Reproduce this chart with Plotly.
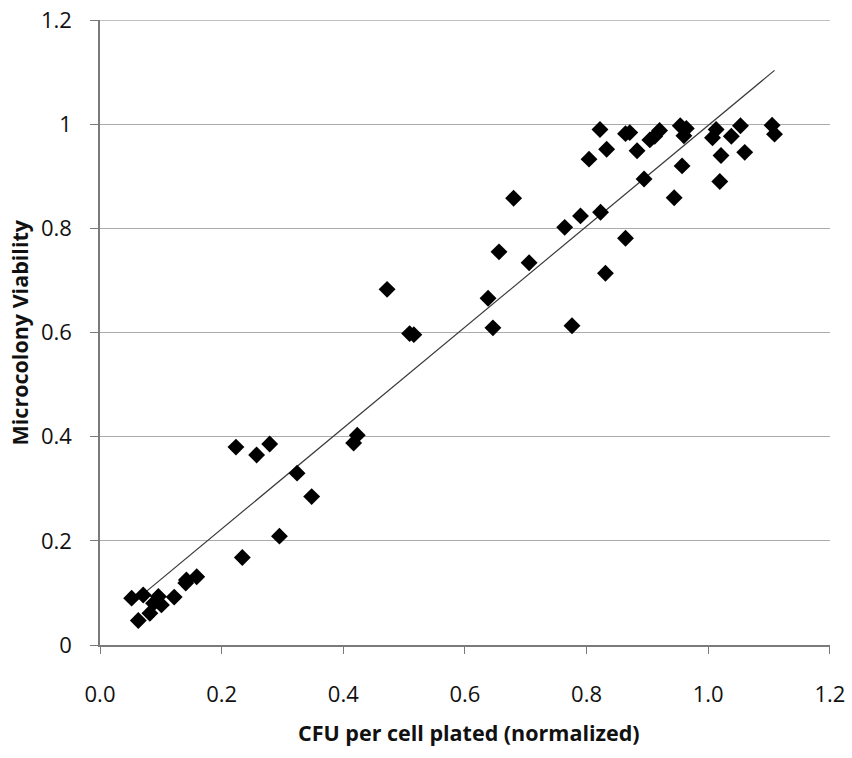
import numpy as np
import plotly.graph_objects as go

cfu = [0.052, 0.071, 0.063, 0.082, 0.096, 0.101, 0.088, 0.122, 0.142, 0.141, 0.159,
       0.234, 0.295, 0.2235, 0.2575, 0.279, 0.324, 0.348, 0.417, 0.423, 0.472,
       0.509, 0.516, 0.638, 0.646, 0.656, 0.7055, 0.680, 0.776, 0.764, 0.790,
       0.823, 0.864, 0.831, 0.804, 0.822, 0.833, 0.864, 0.871, 0.883, 0.8945,
       0.904, 0.912, 0.920, 0.944, 0.954, 0.964, 0.960, 0.957, 1.013, 1.007,
       1.021, 1.019, 1.038, 1.053, 1.060, 1.105, 1.109]
viability = [0.090, 0.096, 0.047, 0.061, 0.093, 0.077, 0.080, 0.092, 0.125, 0.119, 0.131,
             0.168, 0.209, 0.380, 0.365, 0.386, 0.330, 0.285, 0.388, 0.403, 0.683,
             0.598, 0.596, 0.666, 0.609, 0.755, 0.734, 0.858, 0.613, 0.802, 0.824,
             0.831, 0.781, 0.714, 0.933, 0.990, 0.952, 0.982, 0.984, 0.949, 0.895,
             0.970, 0.977, 0.988, 0.859, 0.997, 0.992, 0.978, 0.920, 0.990, 0.974,
             0.940, 0.890, 0.977, 0.997, 0.946, 0.998, 0.981]

x_ticks = [0.0, 0.2, 0.4, 0.6, 0.8, 1.0, 1.2]
y_ticks = [0, 0.2, 0.4, 0.6, 0.8, 1.0, 1.2]
y_labels = ["0", "0.2", "0.4", "0.6", "0.8", "1", "1.2"]
x_title = "CFU per cell plated (normalized)"
y_title = "Microcolony Viability"

slope, intercept = np.polyfit(cfu, viability, 1)
fit_x = [min(cfu), max(cfu)]
fit_y = [slope * v + intercept for v in fit_x]

font_family = "Open Sans, Liberation Sans, sans-serif"
grid_color = "#ababab"

fig = go.Figure()
fig.add_trace(go.Scatter(x=fit_x, y=fit_y, mode="lines",
                         line=dict(color="#3a3a3a", width=1.2), showlegend=False,
                         hoverinfo="skip"))
fig.add_trace(go.Scatter(x=cfu, y=viability, mode="markers",
                         marker=dict(symbol="diamond", size=13, color="black",
                                     line=dict(width=0)),
                         showlegend=False))

# top gridline at the axis maximum (Plotly omits grid lines on the plot edge)
fig.add_shape(type="line", xref="paper", x0=0, x1=1, yref="y",
              y0=y_ticks[-1], y1=y_ticks[-1], layer="below",
              line=dict(color=grid_color, width=1.2))

fig.update_layout(
    width=852, height=758,
    margin=dict(l=100, r=22, t=20, b=113),
    paper_bgcolor="white", plot_bgcolor="white",
    font=dict(family=font_family, size=22, color="#111"),
    xaxis=dict(range=[0, 1.2002], tickvals=x_ticks, ticktext=[f"{v:.1f}" for v in x_ticks],
               automargin=False,
               showgrid=False, zeroline=False, showline=True, linecolor="#7a7a7a",
               linewidth=1.5, ticks="outside", ticklen=7, tickcolor="#7a7a7a",
               ticklabelstandoff=22),
    yaxis=dict(range=[0, 1.2002], tickvals=y_ticks, ticktext=y_labels,
               automargin=False,
               showgrid=True, gridcolor=grid_color, gridwidth=1.2, zeroline=False,
               showline=True, linecolor="#7a7a7a", linewidth=1.5, ticks="outside",
               ticklen=8, tickcolor="#7a7a7a", ticklabelstandoff=14),
    annotations=[
        dict(text=f"<b>{x_title}</b>", xref="paper", yref="paper", x=0.5, y=0,
             xanchor="center", yanchor="middle", xshift=4, yshift=-87,
             showarrow=False, font=dict(size=21.5, color="#111")),
        dict(text=f"<b>{y_title}</b>", xref="paper", yref="paper", x=0, y=0.5,
             xanchor="center", yanchor="middle", xshift=-81, textangle=-90,
             showarrow=False, font=dict(size=21.5, color="#111")),
    ],
)

fig.write_html("out.html",
               config={"displayModeBar": False},
               post_script="document.body.style.margin='0';document.body.style.overflow='hidden';")
